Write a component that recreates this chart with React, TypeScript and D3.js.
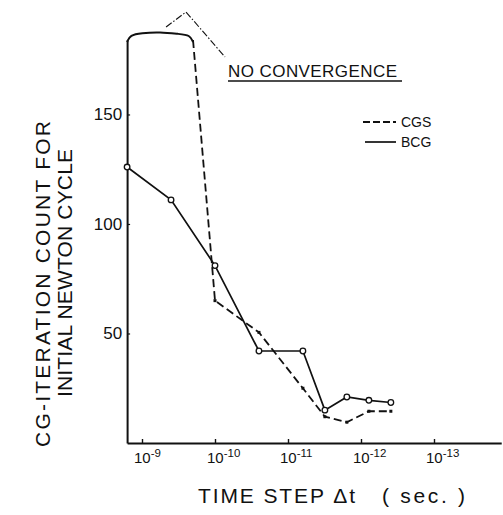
import React, { useEffect, useRef } from "react";
import * as d3 from "d3";

// time step (sec.) and CG iteration count
const bcgSteps = [1.6e-9, 4e-10, 1e-10, 2.5e-11, 6.25e-12, 3.125e-12, 1.5625e-12, 7.8e-13, 3.9e-13];
const bcgCounts = [126, 111, 81, 42, 42, 15, 21, 19.5, 18.5];

// first CGS point sits on the "no convergence" ceiling
const cgsSteps = [2e-10, 1e-10, 2.5e-11, 6.25e-12, 3.125e-12, 1.5625e-12, 7.8e-13, 3.9e-13];
const cgsCounts = [184, 65, 50.5, 25, 12, 9.5, 14.5, 14.5];

const xTicks = [1e-9, 1e-10, 1e-11, 1e-12, 1e-13];
const xTickExp = ["-9", "-10", "-11", "-12", "-13"];
const yTicks = [50, 100, 150];
const ceiling = 184;

const FONT = "'Liberation Sans', Arial, sans-serif";

export default function App() {
  const ref = useRef<SVGSVGElement>(null);

  useEffect(() => {
    const svg = d3.select(ref.current);
    svg.selectAll("*").remove();

    const x = d3.scaleLog().domain([1e-9, 1e-13]).range([142, 434]);
    const y = d3.scaleLinear().domain([0, ceiling]).range([443, 40]);
    const xLeft = 1.6e-9;
    const xRight = 1.2e-14;
    const xAxisScale = x.copy().domain([xLeft, xRight]).range([x(xLeft), x(xRight)]);

    // x axis
    const gx = svg.append("g")
      .attr("transform", `translate(0, ${y(0)})`)
      .call(d3.axisBottom(xAxisScale).tickValues(xTicks).tickSizeInner(-4).tickSizeOuter(0).tickFormat(() => ""));
    gx.select(".domain").attr("stroke", "#111").attr("stroke-width", 2);
    gx.selectAll(".tick line").attr("stroke", "#111").attr("stroke-width", 1.4);

    // tick labels 10^-n
    const lbl = svg.append("g").attr("font-family", FONT).attr("fill", "#111");
    xTicks.forEach((t, i) => {
      const tx = lbl.append("text").attr("x", x(t) - 8).attr("y", 463).attr("font-size", 15);
      tx.append("tspan").text("10");
      tx.append("tspan").attr("dy", -6).attr("font-size", 11.5).text(xTickExp[i]);
    });

    // y axis
    const gy = svg.append("g")
      .attr("transform", `translate(${x(xLeft)}, 0)`)
      .call(d3.axisLeft(y).tickValues(yTicks).tickSizeInner(-3).tickSizeOuter(0).tickPadding(5));
    gy.select(".domain").attr("stroke", "#111").attr("stroke-width", 2);
    gy.selectAll(".tick line").attr("stroke", "#111").attr("stroke-width", 1.2);
    gy.selectAll(".tick text").attr("font-size", 17).attr("font-family", FONT).attr("fill", "#111");

    // series
    const bcgLine = d3.line<number>().x((d, i) => x(bcgSteps[i])).y(d => y(d));
    const cgsLine = d3.line<number>().x((d, i) => x(cgsSteps[i])).y(d => y(d));

    svg.append("path").attr("d", cgsLine(cgsCounts))
      .attr("fill", "none").attr("stroke", "#111").attr("stroke-width", 1.8)
      .attr("stroke-dasharray", "8,4");

    svg.append("path").attr("d", bcgLine(bcgCounts))
      .attr("fill", "none").attr("stroke", "#111").attr("stroke-width", 1.7);

    svg.selectAll(".cgs-mark")
      .data(cgsCounts.slice(1))
      .enter()
      .append("rect")
      .attr("class", "cgs-mark")
      .attr("x", (d, i) => x(cgsSteps[i + 1]) - 1.5)
      .attr("y", d => y(d) - 1.5)
      .attr("width", 3)
      .attr("height", 3)
      .attr("fill", "#111");

    svg.selectAll(".bcg-mark")
      .data(bcgCounts)
      .enter()
      .append("circle")
      .attr("class", "bcg-mark")
      .attr("cx", (d, i) => x(bcgSteps[i]))
      .attr("cy", d => y(d))
      .attr("r", 2.8)
      .attr("fill", "#fff")
      .attr("stroke", "#111")
      .attr("stroke-width", 1.3);

    // "no convergence" bracket over the CGS failures
    const bx0 = x(xLeft);
    const bx1 = x(cgsSteps[0]);
    const bt = y(ceiling);
    const bm = (bx0 + bx1) / 2;
    const bracket: [number, number][] = [
      [bx0, bt + 2], [bx0 + 3, bt - 5], [bx0 + 14, bt - 7], [bm, bt - 8],
      [bx1 - 14, bt - 6], [bx1 - 3, bt - 5], [bx1, bt + 2],
    ];
    svg.append("path").attr("d", d3.line().curve(d3.curveBasis)(bracket))
      .attr("fill", "none").attr("stroke", "#111").attr("stroke-width", 2);

    const ncX = 228;
    const ncY = 77;
    svg.append("path")
      .attr("d", d3.line()([[bm + 6, bt - 13], [bx1 - 7, bt - 28], [ncX - 3, ncY - 20]]))
      .attr("fill", "none").attr("stroke", "#111").attr("stroke-width", 1.1)
      .attr("stroke-dasharray", "7,2,1.5,2");

    svg.append("text").attr("x", ncX).attr("y", ncY)
      .attr("font-family", FONT).attr("font-size", 17).attr("fill", "#111")
      .attr("textLength", 169).attr("lengthAdjust", "spacing")
      .text("NO CONVERGENCE");
    svg.append("line").attr("x1", ncX).attr("x2", ncX + 174).attr("y1", ncY + 4).attr("y2", ncY + 4)
      .attr("stroke", "#111").attr("stroke-width", 1.4);

    // legend
    const lg = svg.append("g").attr("font-family", FONT).attr("font-size", 14).attr("fill", "#111");
    lg.append("line").attr("x1", 363).attr("x2", 396).attr("y1", 122).attr("y2", 122)
      .attr("stroke", "#111").attr("stroke-width", 1.8).attr("stroke-dasharray", "7,3");
    lg.append("text").attr("x", 401).attr("y", 127).text("CGS");
    lg.append("line").attr("x1", 365).attr("x2", 396).attr("y1", 142).attr("y2", 142)
      .attr("stroke", "#111").attr("stroke-width", 1.7);
    lg.append("text").attr("x", 401).attr("y", 147).text("BCG");

    // axis titles
    svg.append("text").attr("transform", "translate(50, 284) rotate(-90)")
      .attr("text-anchor", "middle").attr("font-family", FONT).attr("font-size", 21).attr("fill", "#111")
      .attr("textLength", 326).attr("lengthAdjust", "spacing")
      .text("CG-ITERATION COUNT FOR");
    svg.append("text").attr("transform", "translate(72, 273) rotate(-90)")
      .attr("text-anchor", "middle").attr("font-family", FONT).attr("font-size", 21).attr("fill", "#111")
      .attr("textLength", 248).attr("lengthAdjust", "spacing")
      .text("INITIAL NEWTON CYCLE");

    svg.append("text").attr("x", 198).attr("y", 503)
      .attr("font-family", FONT).attr("font-size", 21).attr("fill", "#111")
      .attr("textLength", 157).attr("lengthAdjust", "spacing")
      .text("TIME STEP \u0394t");
    svg.append("text").attr("x", 382).attr("y", 503)
      .attr("font-family", FONT).attr("font-size", 21).attr("fill", "#111")
      .attr("textLength", 83).attr("lengthAdjust", "spacing")
      .text("( sec. )");
  }, []);

  return (
    <svg ref={ref} width={503} height={515}
      style={{ position: "absolute", left: 0, top: 0, background: "#fff" }} />
  );
}
